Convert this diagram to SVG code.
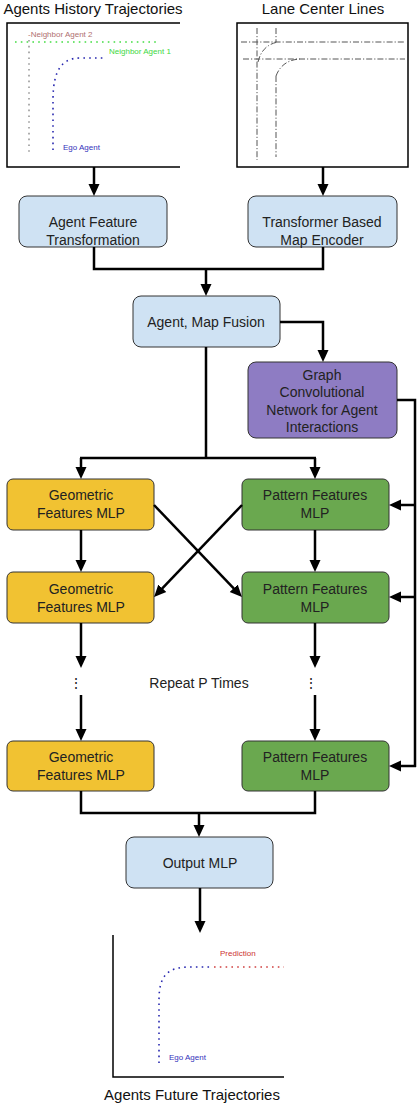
<svg xmlns="http://www.w3.org/2000/svg" width="418" height="1106" viewBox="0 0 418 1106">
<style>
.t{font-family:"Liberation Sans",Arial,sans-serif;fill:#222;text-anchor:middle;font-size:14px}
.title{font-family:"Liberation Sans",Arial,sans-serif;fill:#111;text-anchor:middle;font-size:15px}
.sm{font-family:"Liberation Sans",Arial,sans-serif;font-size:8px}
.box{stroke:#333;stroke-width:1}
.blue{fill:#cfe2f3}.purple{fill:#8e7cc3}.yellow{fill:#f1c232}.green{fill:#6aa84f}
.c{fill:none;stroke:#000;stroke-width:2.5}
.a{marker-end:url(#ah)}
.dot{fill:none;stroke-width:1.6;stroke-dasharray:1.6 4.2;stroke-linecap:butt}
.lane{fill:none;stroke:#555;stroke-width:1;stroke-dasharray:6 2 1.2 2}
</style>
<defs>
<marker id="ah" markerUnits="userSpaceOnUse" markerWidth="12" markerHeight="12" viewBox="0 0 12 12" refX="8" refY="6" orient="auto">
<path d="M0,0.5 L12,6 L0,11.5 z" fill="#000"/>
</marker>
</defs>

<g id="history">
<text class="title" x="93" y="14">Agents History Trajectories</text>
<path d="M180,23 H7 V167 H180" fill="none" stroke="#000" stroke-width="1.5"/>
<path class="dot" d="M15,42 H158" stroke="#44dd44"/>
<path class="dot" d="M29,40 V152" stroke="#999"/>
<path class="dot" d="M53,150 V100 C53,70 62,58 80,58 H106" stroke="#2828b0"/>
<text class="sm" x="28" y="37" fill="#b07070">-Neighbor Agent 2</text>
<text class="sm" x="109" y="54" fill="#3ed83e">Neighbor Agent 1</text>
<text class="sm" x="63" y="150" fill="#3333bb">Ego Agent</text>
</g>

<g id="lanes">
<text class="title" x="323" y="14">Lane Center Lines</text>
<rect x="237" y="23" width="171" height="144" fill="#fff" stroke="#000" stroke-width="1.5"/>
<path class="lane" d="M241,42 H405"/>
<path class="lane" d="M243,59 H405"/>
<path class="lane" d="M257,28 V160"/>
<path class="lane" d="M276,28 V42 M276,76 V157" stroke="#666"/>
<path class="lane" d="M258,62 Q262,45 278,42"/>
<path class="lane" d="M276,76 Q282,60 300,59"/>
</g>

<g id="agent_feature">
<rect class="box blue" x="19" y="196" width="148" height="51" rx="8"/>
<text class="t" x="93" y="227">Agent Feature</text>
<text class="t" x="93" y="245">Transformation</text>
</g>
<g id="map_encoder">
<rect class="box blue" x="248" y="196" width="149" height="51" rx="8"/>
<text class="t" x="322" y="227">Transformer Based</text>
<text class="t" x="322" y="245">Map Encoder</text>
</g>
<g id="fusion">
<rect class="box blue" x="133" y="296" width="147" height="51" rx="8"/>
<text class="t" x="206" y="327">Agent, Map Fusion</text>
</g>
<g id="gcn">
<rect class="box purple" x="248" y="362" width="149" height="76" rx="8"/>
<text class="t" x="322" y="380">Graph</text>
<text class="t" x="322" y="397">Convolutional</text>
<text class="t" x="322" y="415">Network for Agent</text>
<text class="t" x="322" y="432">Interactions</text>
</g>

<g id="geo1">
<rect class="box yellow" x="7" y="479" width="147" height="51" rx="6"/>
<text class="t" x="81" y="500">Geometric</text>
<text class="t" x="81" y="518">Features MLP</text>
</g>
<g id="pat1">
<rect class="box green" x="242" y="479" width="147" height="51" rx="6"/>
<text class="t" x="315" y="500">Pattern Features</text>
<text class="t" x="315" y="518">MLP</text>
</g>
<g id="geo2">
<rect class="box yellow" x="7" y="572" width="147" height="51" rx="6"/>
<text class="t" x="81" y="594">Geometric</text>
<text class="t" x="81" y="612">Features MLP</text>
</g>
<g id="pat2">
<rect class="box green" x="242" y="572" width="147" height="51" rx="6"/>
<text class="t" x="315" y="594">Pattern Features</text>
<text class="t" x="315" y="612">MLP</text>
</g>
<g id="repeat">
<text class="t" x="76" y="688" fill="#777" font-family="DejaVu Sans,sans-serif" font-size="13">⋮</text>
<text class="t" x="311" y="688" fill="#777" font-family="DejaVu Sans,sans-serif" font-size="13">⋮</text>
<text class="t" x="199" y="688">Repeat P Times</text>
</g>
<g id="geo3">
<rect class="box yellow" x="7" y="741" width="147" height="50" rx="6"/>
<text class="t" x="81" y="762">Geometric</text>
<text class="t" x="81" y="780">Features MLP</text>
</g>
<g id="pat3">
<rect class="box green" x="242" y="741" width="147" height="50" rx="6"/>
<text class="t" x="315" y="762">Pattern Features</text>
<text class="t" x="315" y="780">MLP</text>
</g>
<g id="output_mlp">
<rect class="box blue" x="126" y="837" width="147" height="51" rx="8"/>
<text class="t" x="200" y="868">Output MLP</text>
</g>

<g id="future">
<path d="M113,935 V1077 H284" fill="none" stroke="#000" stroke-width="1.5"/>
<path class="dot" d="M159,1063 V1000 C159,975 168,967 190,967 H212" stroke="#2828b0"/>
<path class="dot" d="M214,967 H284" stroke="#d04040"/>
<text class="sm" x="220" y="956" fill="#cc3333" font-size="10">Prediction</text>
<text class="sm" x="169" y="1060" fill="#3333bb" font-size="8.5">Ego Agent</text>
<text class="title" x="192" y="1100">Agents Future Trajectories</text>
</g>

<g id="connectors">
<path class="c a" d="M94,167 V192"/>
<path class="c a" d="M323,167 V192"/>
<path class="c" d="M94,247 V269 H323 V247"/>
<path class="c a" d="M206,269 V292"/>
<path class="c a" d="M280,322 H323 V358"/>
<path class="c" d="M206,347 V458 M80,458 H316"/>
<path class="c a" d="M81,458 V475"/>
<path class="c a" d="M315,458 V475"/>
<path class="c" d="M397,400 H415 V767"/>
<path class="c a" d="M416,505 H393"/>
<path class="c a" d="M416,597 H393"/>
<path class="c a" d="M416,766 H393"/>
<path class="c a" d="M81,530 V568"/>
<path class="c a" d="M315,530 V568"/>
<path class="c a" d="M154,505 L239.2,594.1"/>
<path class="c a" d="M242,505 L156.8,594.1"/>
<path class="c a" d="M81,623 V664"/>
<path class="c a" d="M315,623 V664"/>
<path class="c a" d="M81,695 V737"/>
<path class="c a" d="M315,695 V737"/>
<path class="c" d="M81,791 V813 H315 V791"/>
<path class="c a" d="M199,813 V833"/>
<path class="c a" d="M200,888 V929"/>
</g>
</svg>
